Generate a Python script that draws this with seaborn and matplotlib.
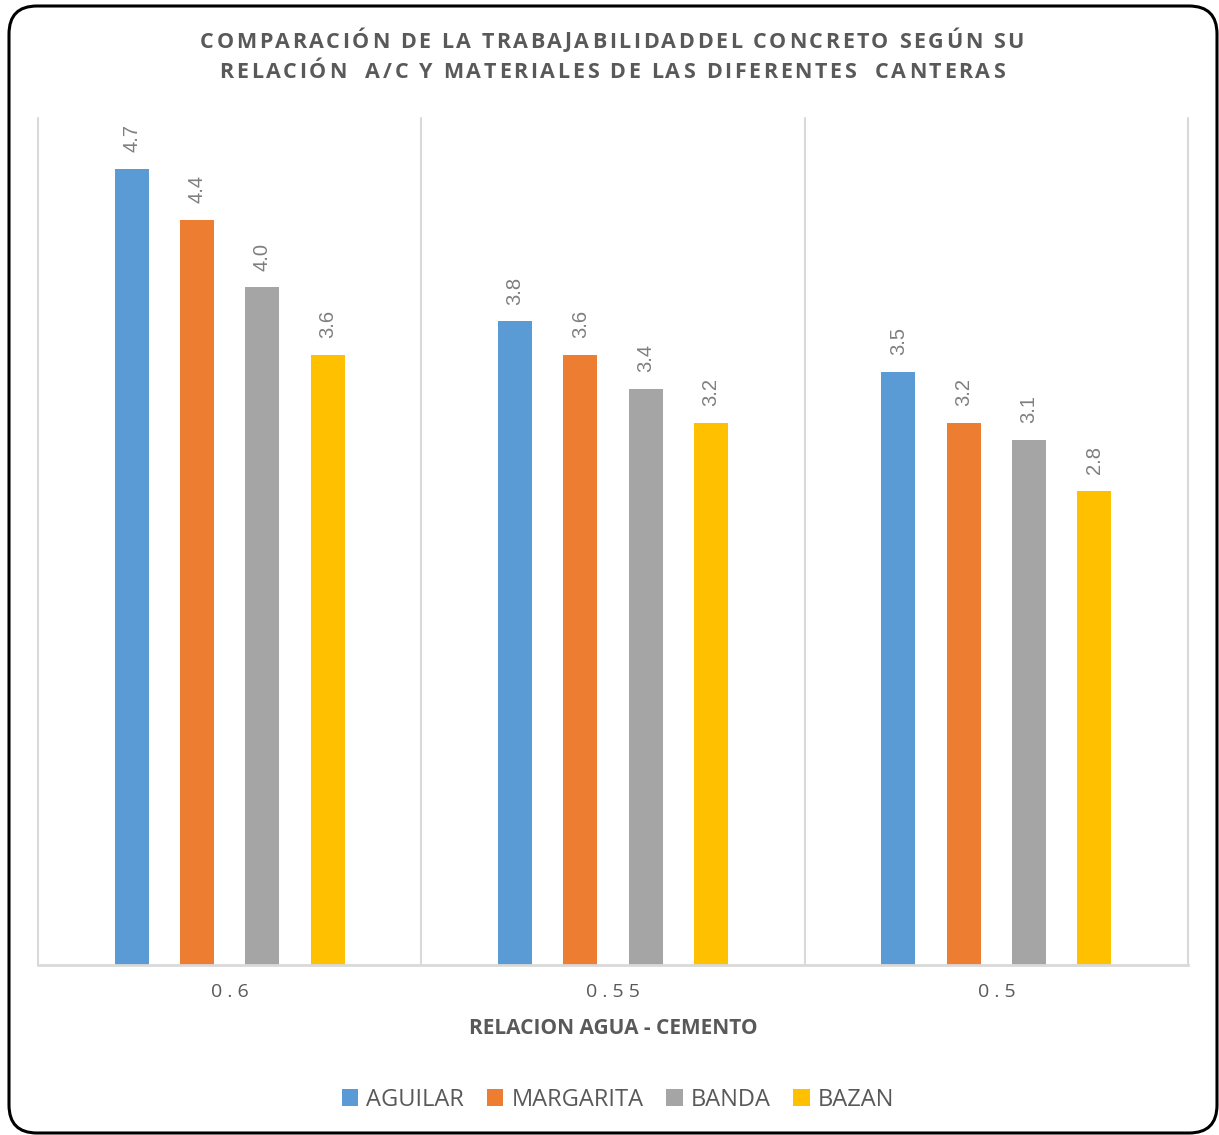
import matplotlib
matplotlib.use("Agg")
import matplotlib.pyplot as plt
from matplotlib.patches import FancyBboxPatch, Patch
from matplotlib.transforms import IdentityTransform
import seaborn as sns
import pandas as pd

# ---- data ----
ratios = ["0.6", "0.55", "0.5"]
canteras = ["AGUILAR", "MARGARITA", "BANDA", "BAZAN"]
aguilar = [4.7, 3.8, 3.5]
margarita = [4.4, 3.6, 3.2]
banda = [4.0, 3.4, 3.1]
bazan = [3.6, 3.2, 2.8]
colors = ["#5B9BD5", "#ED7D31", "#A5A5A5", "#FFC000"]

title_lines = [
    "COMPARACIÓN DE LA TRABAJABILIDADDEL CONCRETO SEGÚN SU",
    "RELACIÓN  A/C Y MATERIALES DE LAS DIFERENTES  CANTERAS",
]
xlabel = "RELACION AGUA - CEMENTO"

rows = []
for name, vals in zip(canteras, [aguilar, margarita, banda, bazan]):
    for r, v in zip(ratios, vals):
        rows.append({"ratio": r, "cantera": name, "valor": v})
df = pd.DataFrame(rows)

W, H, DPI = 1219, 1135, 100
sns.set_theme(style="white")
plt.rcParams["font.family"] = ["Open Sans", "DejaVu Sans"]
TXT = "#595959"

fig = plt.figure(figsize=(W / DPI, H / DPI), dpi=DPI)
ax = fig.add_axes([38 / W, 1 - 965 / H, (1188 - 38) / W, (965 - 118) / H])

sns.barplot(data=df, x="ratio", y="valor", hue="cantera", order=ratios,
            hue_order=canteras, palette=colors, width=0.682, gap=0.48,
            linewidth=0, saturation=1, ax=ax, legend=False)

for cont in ax.containers:
    ax.bar_label(cont, fmt="%.1f", rotation=90, padding=12,
                 fontsize=14.5, color="#7F7F7F", family="Liberation Sans")

ax.set_xlim(-0.5, 2.5)
ax.set_ylim(0, 5.0)
ax.set_yticks([])
ax.set_xlabel("")
ax.set_ylabel("")
for s in ["left", "right", "top"]:
    ax.spines[s].set_visible(False)
ax.spines["bottom"].set_color("#D9D9D9")
ax.spines["bottom"].set_linewidth(2)
for xv in [-0.5, 0.5, 1.5, 2.5]:
    ax.axvline(xv, color="#D9D9D9", lw=1.5, clip_on=False, zorder=0)
ax.tick_params(axis="x", length=0, pad=13, labelsize=14, labelcolor=TXT)
ax.set_xticks(range(len(ratios)))
ax.set_xticklabels([" ".join(r) for r in ratios])

fig.canvas.draw()
renderer = fig.canvas.get_renderer()


def text_width(s, **kw):
    t = fig.text(0, 0, s, **kw)
    w = t.get_window_extent(renderer).width
    t.remove()
    return w


def spaced_text(s, xc, y, target_w, **kw):
    """Draw s centred on xc (pixels) with letter spacing filling target_w."""
    ref = text_width("ll", **kw)
    widths = [text_width("l" + c + "l", **kw) - ref for c in s]
    gap = (target_w - sum(widths)) / (len(s) - 1)
    x = xc - target_w / 2
    for c, w in zip(s, widths):
        fig.text(x / W, 1 - y / H, c, ha="left", va="center", **kw)
        x += w + gap


tkw = dict(fontsize=15.5, fontweight="bold", color=TXT)
spaced_text(title_lines[0], 612, 42, 824, **tkw)
spaced_text(title_lines[1], 612, 72, 785, **tkw)

fig.text(613 / W, 1 - 1028 / H, xlabel, ha="center", va="center",
         fontsize=15, fontweight="bold", color=TXT)

handles = [Patch(facecolor=c, edgecolor="none") for c in colors]
fig.legend(handles, canteras, loc="center", bbox_to_anchor=(618 / W, 1 - 1100 / H),
           ncol=4, frameon=False, fontsize=17, labelcolor=TXT,
           handlelength=0.7, handleheight=0.7, handletextpad=0.35,
           columnspacing=0.95)

border = FancyBboxPatch((9, H - 1133), 1208, 1127,
                        boxstyle="round,pad=0,rounding_size=28",
                        transform=IdentityTransform(), fill=False,
                        edgecolor="black", linewidth=2.2)
fig.patches.append(border)

fig.savefig("out.png", dpi=DPI, facecolor="white")
